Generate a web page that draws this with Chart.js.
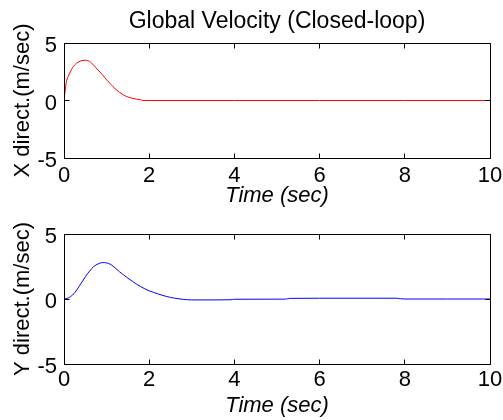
<!DOCTYPE html>
<html><head><meta charset="utf-8">
<script src="https://cdn.jsdelivr.net/npm/chart.js@4.4.0/dist/chart.umd.min.js"></script>
<style>
html,body{margin:0;padding:0;background:#fff;width:503px;height:420px;overflow:hidden}
canvas{position:absolute;left:0}
#c1{top:0}#c2{top:210px}
</style></head><body>
<canvas id="c1" width="503" height="210"></canvas>
<canvas id="c2" width="503" height="210"></canvas>
<script>
// ---- data ----
const timeX = [0, 0.05, 0.1, 0.15, 0.2, 0.3, 0.4, 0.5, 0.6, 0.7, 0.8, 0.9, 1.0, 1.1, 1.2, 1.3, 1.4, 1.5, 1.6, 1.7, 1.8, 1.85, 2, 4, 6, 8, 10];
const velX  = [0, 1.5, 2.1, 2.5, 2.85, 3.25, 3.45, 3.5, 3.4, 3.05, 2.65, 2.25, 1.8, 1.4, 1.02, 0.72, 0.48, 0.3, 0.2, 0.12, 0.06, 0.0, 0, 0, 0, 0, 0];
const timeY = [0, 0.1, 0.2, 0.3, 0.4, 0.5, 0.6, 0.7, 0.8, 0.9, 1.0, 1.1, 1.2, 1.3, 1.4, 1.5, 1.6, 1.7, 1.8, 1.9, 2.0, 2.2, 2.4, 2.6, 2.8, 3.0, 3.5, 3.9, 4.0, 5.2, 5.3, 6, 7, 7.8, 7.9, 8, 9, 10];
const velY  = [0, 0.08, 0.3, 0.7, 1.2, 1.7, 2.15, 2.5, 2.7, 2.8, 2.78, 2.65, 2.4, 2.1, 1.85, 1.6, 1.38, 1.15, 0.95, 0.78, 0.63, 0.4, 0.2, 0.06, -0.03, -0.07, -0.07, -0.06, -0.02, -0.01, 0.05, 0.06, 0.06, 0.06, 0.02, 0, 0, 0];
const xTickValues = [0, 2, 4, 6, 8, 10];
const yTickValues = [-5, 0, 5];
const chartTitle = 'Global Velocity (Closed-loop)';
const xAxisTitle = 'Time (sec)';
const yAxisTitles = ['X direct.(m/sec)', 'Y direct.(m/sec)'];

const FONT = "'Liberation Sans', Arial, Helvetica, sans-serif";

const boxPlugin = {
  id: 'boxTicks',
  afterDatasetsDraw(chart) {
    const {ctx, chartArea: a, scales} = chart;
    const L = Math.floor(a.left) + 0.5, R = Math.floor(a.right) + 0.5;
    const T = Math.floor(a.top) + 0.5, B = Math.floor(a.bottom) + 0.5;
    ctx.save();
    ctx.strokeStyle = '#000';
    ctx.lineWidth = 1;
    ctx.beginPath();
    ctx.rect(L, T, R - L, B - T);
    const tl = 5;
    scales.x.ticks.forEach(t => {
      const px = Math.floor(scales.x.getPixelForValue(t.value)) + 0.5;
      ctx.moveTo(px, T); ctx.lineTo(px, T + tl);
      ctx.moveTo(px, B); ctx.lineTo(px, B - tl);
    });
    scales.y.ticks.forEach(t => {
      const py = Math.floor(scales.y.getPixelForValue(t.value)) + 0.5;
      ctx.moveTo(L, py); ctx.lineTo(L + tl, py);
      ctx.moveTo(R, py); ctx.lineTo(R - tl, py);
    });
    ctx.stroke();
    ctx.restore();
  }
};

function makeChart(id, times, vals, color, yTitle, showTitle, cfg) {
  return new Chart(document.getElementById(id), {
    type: 'line',
    data: {
      datasets: [{
        data: times.map((t, i) => ({x: t, y: vals[i]})),
        borderColor: color,
        borderWidth: 1,
        pointRadius: 0,
        fill: false,
        cubicInterpolationMode: 'monotone'
      }]
    },
    options: {
      responsive: false,
      animation: false,
      devicePixelRatio: 1,
      layout: {padding: {left: 0, right: 13, top: cfg.padTop, bottom: 0}},
      plugins: {
        legend: {display: false},
        tooltip: {enabled: false},
        title: {
          display: showTitle,
          fullSize: false,
          text: chartTitle,
          color: '#000',
          font: {family: FONT, size: 23, weight: 'normal'},
          padding: {top: 8, bottom: 7.4}
        }
      },
      scales: {
        x: {
          type: 'linear',
          min: 0, max: 10,
          afterBuildTicks: s => { s.ticks = xTickValues.map(v => ({value: v})); },
          grid: {display: false, drawTicks: false},
          border: {display: false},
          ticks: {color: '#000', font: {family: FONT, size: 22}, padding: cfg.xTickPad, maxRotation: 0, autoSkip: false},
          title: {display: true, text: xAxisTitle, color: '#000',
                  font: {family: FONT, size: 22, style: 'italic'}, padding: {top: 0, bottom: 1}},
          afterFit: s => { s.height = cfg.xHeight; s.paddingLeft = 0; s.paddingRight = 0; }
        },
        y: {
          min: -5, max: 5,
          afterBuildTicks: s => { s.ticks = yTickValues.map(v => ({value: v})); },
          grid: {display: false, drawTicks: false},
          border: {display: false},
          ticks: {color: '#000', font: {family: FONT, size: 22}, padding: 7, labelOffset: 3},
          title: {display: true, text: yTitle, color: '#000',
                  font: {family: FONT, size: 22}, padding: {top: 10, bottom: 0}},
          afterFit: s => { s.width = 64; s.paddingTop = 0; s.paddingBottom = 0; }
        }
      }
    },
    plugins: [boxPlugin]
  });
}

makeChart('c1', timeX, velX, '#ff0000', yAxisTitles[0], true, {padTop: 0, xTickPad: 4.8, xHeight: 52});
makeChart('c2', timeY, velY, '#0000ff', yAxisTitles[1], false, {padTop: 24, xTickPad: 2.5, xHeight: 56});
</script>
</body></html>
